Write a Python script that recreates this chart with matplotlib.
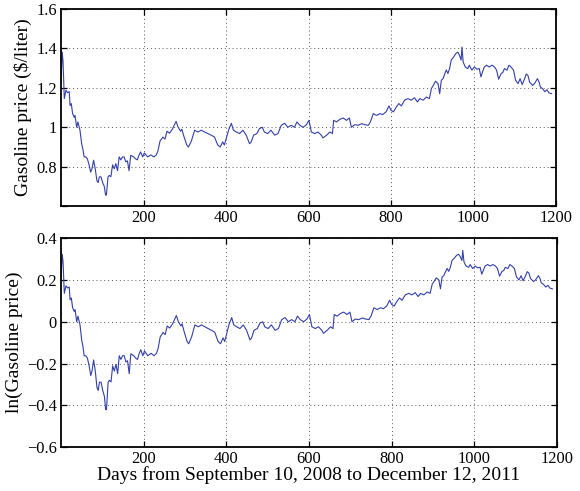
import numpy as np
import matplotlib
matplotlib.use("Agg")
import matplotlib.pyplot as plt
from matplotlib.ticker import FixedLocator

days = [0, 3, 5, 8, 12, 16, 20, 22, 25, 28, 32, 34, 38, 41, 46, 50, 53, 56, 60, 64,
        68, 72, 75, 79, 83, 87, 90, 93, 97, 101, 105, 108, 110, 114, 117, 121, 125, 129, 133, 137,
        141, 145, 149, 153, 157, 161, 165, 169, 176, 181, 185, 189, 193, 198, 202, 210, 218, 225, 231, 235,
        240, 247, 252, 257, 263, 270, 279, 284, 290, 293, 297, 305, 309, 316, 324, 332, 340, 348, 356, 364,
        372, 380, 386, 392, 396, 407, 413, 418, 425, 433, 441, 449, 457, 461, 467, 475, 481, 488, 493, 501,
        509, 518, 526, 534, 542, 550, 558, 566, 572, 579, 587, 595, 601, 607, 615, 623, 631, 635, 644, 652,
        658, 661, 668, 676, 684, 692, 699, 704, 712, 720, 729, 737, 745, 750, 757, 765, 773, 780, 788, 795,
        800, 806, 813, 819, 825, 833, 841, 849, 857, 864, 870, 878, 886, 893, 898, 902, 908, 914, 918, 922,
        926, 934, 938, 942, 946, 952, 957, 962, 966, 970, 972, 975, 980, 986, 990, 996, 1002, 1008, 1014, 1018,
        1022, 1026, 1032, 1038, 1045, 1051, 1056, 1061, 1067, 1071, 1075, 1081, 1086, 1091, 1097, 1102, 1108, 1113, 1118, 1124,
        1128, 1132, 1136, 1143, 1148, 1155, 1159, 1162, 1167, 1173, 1178, 1183, 1189]

price = [1.23, 1.38, 1.33, 1.145, 1.187, 1.175, 1.18, 1.11, 1.12, 1.07, 1.05, 1.06, 1.00, 1.027, 0.985, 0.917, 0.89, 0.85, 0.85, 0.84,
         0.81, 0.773, 0.79, 0.833, 0.79, 0.73, 0.72, 0.749, 0.749, 0.72, 0.70, 0.657, 0.657, 0.749, 0.756, 0.75, 0.81, 0.79, 0.816, 0.78,
         0.85, 0.835, 0.85, 0.85, 0.825, 0.83, 0.78, 0.858, 0.85, 0.84, 0.835, 0.858, 0.875, 0.85, 0.87, 0.85, 0.86, 0.85, 0.86, 0.88,
         0.93, 0.95, 0.94, 0.98, 0.97, 0.99, 1.03, 1.00, 0.98, 0.99, 0.96, 0.91, 0.90, 0.93, 0.985, 0.976, 0.985, 0.976, 0.968, 0.96,
         0.951, 0.91, 0.90, 0.926, 0.91, 0.99, 1.02, 0.985, 0.976, 0.968, 0.985, 0.96, 0.917, 0.925, 0.96, 0.968, 0.993, 1.00, 0.976, 0.968,
         0.985, 0.96, 0.968, 1.01, 1.02, 1.00, 1.01, 1.00, 1.027, 1.01, 1.00, 1.013, 1.035, 0.976, 0.968, 0.976, 0.96, 0.946, 0.96, 0.976,
         0.968, 1.035, 1.027, 1.04, 1.047, 1.035, 1.047, 1.00, 1.013, 1.01, 1.018, 1.013, 1.01, 1.027, 1.069, 1.06, 1.069, 1.064, 1.078, 1.108,
         1.086, 1.078, 1.103, 1.12, 1.108, 1.137, 1.145, 1.137, 1.149, 1.128, 1.145, 1.137, 1.153, 1.145, 1.196, 1.21, 1.233, 1.221, 1.17, 1.238,
         1.246, 1.29, 1.272, 1.297, 1.34, 1.356, 1.373, 1.38, 1.364, 1.34, 1.406, 1.33, 1.305, 1.297, 1.314, 1.289, 1.305, 1.294, 1.297, 1.255,
         1.28, 1.305, 1.314, 1.305, 1.314, 1.305, 1.289, 1.243, 1.272, 1.277, 1.297, 1.289, 1.314, 1.305, 1.289, 1.238, 1.221, 1.246, 1.216, 1.246,
         1.27, 1.262, 1.229, 1.212, 1.221, 1.246, 1.229, 1.204, 1.196, 1.18, 1.19, 1.174, 1.17]

x_ticks = [200, 400, 600, 800, 1000, 1200]
x_ticklabels = ["200", "400", "600", "800", "1000", "1200"]
top_yticks = [0.6, 0.8, 1.0, 1.2, 1.4, 1.6]
top_yticklabels = ["", "0.8", "1", "1.2", "1.4", "1.6"]
bot_yticks = [-0.6, -0.4, -0.2, 0.0, 0.2, 0.4]
bot_yticklabels = ["\u22120.6", "\u22120.4", "\u22120.2", "0", "0.2", "0.4"]

top_ylabel = "Gasoline price ($/liter)"
bot_ylabel = "ln(Gasoline price)"
xlabel = "Days from September 10, 2008 to December 12, 2011"

plt.rcParams['font.family'] = ['Liberation Serif', 'DejaVu Serif']
plt.rcParams['mathtext.default'] = 'regular'
FS = 11.8
LFS = 14.0
LINE_COLOR = '#3340a8'

fig = plt.figure(figsize=(5.8, 4.91), dpi=100)
ax1 = fig.add_axes([61 / 580, 1 - 206.3 / 491, (556 - 61) / 580, (206.3 - 8.7) / 491])
ax2 = fig.add_axes([61 / 580, 1 - 447.3 / 491, (557 - 61) / 580, (447.3 - 238) / 491])

d = np.array(days)
p = np.array(price)


def style(ax, yticks, yticklabels):
    ax.set_xlim(0, 1200)
    ax.set_ylim(yticks[0], yticks[-1])
    ax.xaxis.set_major_locator(FixedLocator(x_ticks))
    ax.set_xticklabels(x_ticklabels)
    ax.yaxis.set_major_locator(FixedLocator(yticks))
    ax.set_yticklabels(yticklabels)
    ax.tick_params(direction='in', length=4, width=0.9, top=True, right=True,
                   labelsize=FS, pad=3, colors='black')
    for s in ax.spines.values():
        s.set_linewidth(1.3)
    ax.grid(True, linestyle=(0, (1, 3)), color='0.35', linewidth=0.7)
    ax.set_axisbelow(True)


ax1.plot(d, p, color=LINE_COLOR, linewidth=0.8)
style(ax1, top_yticks, top_yticklabels)
ax1.set_ylabel(top_ylabel, fontsize=LFS, labelpad=3)

ax2.plot(d, np.log(p), color=LINE_COLOR, linewidth=0.8)
style(ax2, bot_yticks, bot_yticklabels)
ax2.set_ylabel(bot_ylabel, fontsize=LFS, labelpad=3)
ax2.set_xlabel(xlabel, fontsize=LFS, labelpad=-1)

fig.savefig("out.png", dpi=100)
